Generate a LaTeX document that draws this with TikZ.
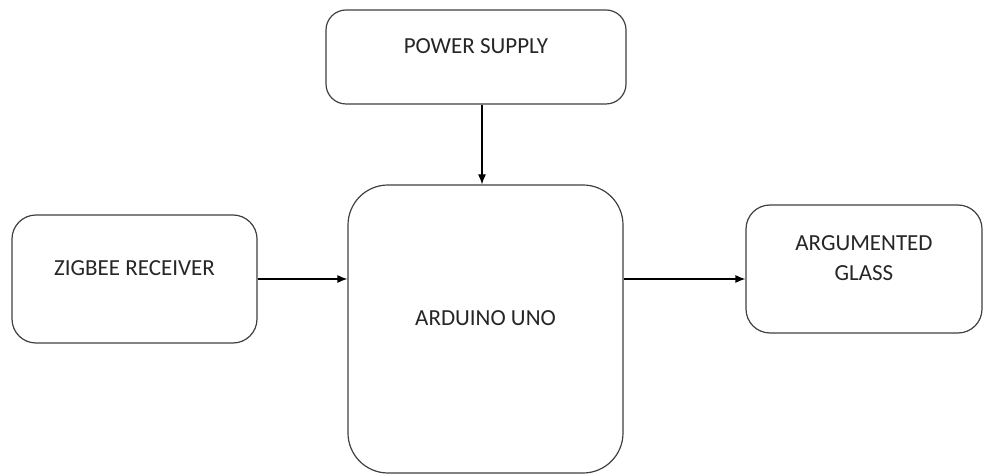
\documentclass[tikz,border=0pt]{standalone}
\usepackage{fontspec}
\setmainfont{Carlito}
\usepackage{tikz}
\usetikzlibrary{arrows.meta,positioning}

\begin{document}
\begin{tikzpicture}[
    x=0.5pt, y=-0.5pt,
    >={Latex[length=5pt,width=4pt]},
    font=\fontsize{11.5}{15}\selectfont,
    block/.style={
		rectangle,
		rounded corners=12pt,
		draw=black!75,
		line width=0.6pt,
		text=black!85,
		align=center,
		text depth=11pt,
		fill=white
	},
	link/.style={
		draw=black,
		line width=0.6pt,
		->
	}
  ]
  \useasboundingbox (0,0) rectangle (984,475);
    % We start by placing the blocks

  \node [block, rounded corners=10pt, minimum width=150pt, minimum height=47pt] (power) at (476,57) {POWER SUPPLY};

  \node [block, rounded corners=20pt, minimum width=137.5pt, minimum height=144pt] (arduino) at (485.5,329) {ARDUINO UNO};

  \node [block, minimum width=122.5pt, minimum height=64pt] (zigbee) at (134.5,279) {ZIGBEE RECEIVER};

  \node [block, minimum width=118pt, minimum height=64pt] (glass) at (864,269) {ARGUMENTED\\GLASS};

  % then the connections
  \draw [link] ([xshift=3pt]power.south) -- ([xshift=3pt]power.south |- arduino.north);
  \draw [link] (zigbee.east) -- (zigbee.east -| arduino.west);
  \draw [link] (arduino.east |- zigbee.east) -- (glass.west |- zigbee.east);

\end{tikzpicture}
\end{document}
